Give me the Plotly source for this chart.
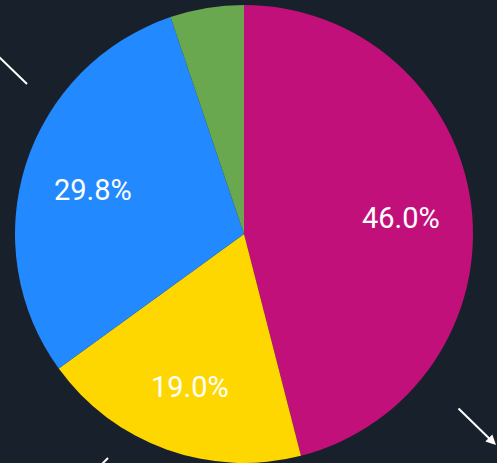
import math
import plotly.graph_objects as go

labels = ["A", "B", "C", "D"]
values = [46.0, 19.0, 29.8, 5.2]
colors = ["#C1107A", "#FFD700", "#2389FF", "#6AA84F"]
texts = ["46.0%", "19.0%", "29.8%", ""]

W, H = 497, 463
CX, CY, R = 244, 234, 229  # pie center / radius in pixels

fig = go.Figure(go.Pie(
    labels=labels, values=values, sort=False, direction="clockwise", rotation=0,
    marker=dict(colors=colors, line=dict(width=0)),
    textinfo="none",
    domain=dict(x=[(CX - R) / W, (CX + R) / W],
                y=[max(0, 1 - (CY + R) / H), min(1, 1 - (CY - R) / H)]),
    hoverinfo="label+percent", showlegend=False,
))

# slice labels placed at ~0.69 R along each slice's mid-angle
total = sum(values)
cum = 0.0
for v, t in zip(values, texts):
    mid = (cum + v / 2) / total * 2 * math.pi
    cum += v
    if not t:
        continue
    px_ = CX + 0.69 * R * math.sin(mid)
    py_ = CY - 0.69 * R * math.cos(mid) + 4
    fig.add_annotation(x=px_ / W, y=1 - py_ / H, xref="paper", yref="paper",
                       xanchor="center", yanchor="middle",
                       text=t, showarrow=False,
                       font=dict(color="white", size=29, family="Roboto"))

# decorative pointer lines
for (x0, y0), (x1, y1) in [((-2, 56), (27, 84)), ((98, 468), (108, 458))]:
    fig.add_shape(type="line", xref="paper", yref="paper",
                  x0=x0 / W, y0=1 - y0 / H, x1=x1 / W, y1=1 - y1 / H,
                  line=dict(color="white", width=2))

fig.add_annotation(x=499 / W, y=1 - 445 / H, ax=457 - 499, ay=407 - 445,
                   xref="paper", yref="paper", axref="pixel", ayref="pixel",
                   text="", showarrow=True,
                   arrowhead=2, arrowsize=1, arrowwidth=2, arrowcolor="white")

fig.update_layout(
    width=W, height=H, margin=dict(l=0, r=0, t=0, b=0),
    paper_bgcolor="#18212B", plot_bgcolor="#18212B",
    font=dict(family="Roboto"),
)
fig.write_html("out.html", config={"displayModeBar": False},
               post_script="document.body.style.margin='0';document.body.style.background='#18212B';")
